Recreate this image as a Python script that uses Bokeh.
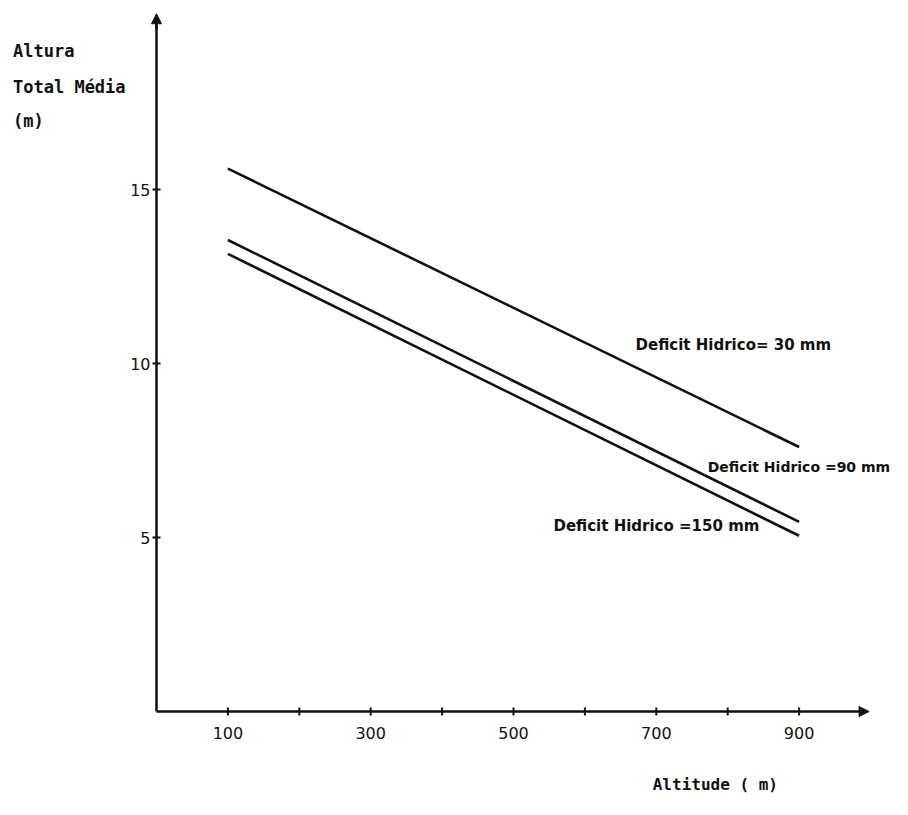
import math
from bokeh.plotting import figure
from bokeh.models import Label, Arrow, NormalHead, Range1d
from bokeh.core.properties import value
from bokeh.embed import file_html
from bokeh.resources import INLINE

# Data
altitude = [100, 900]
series_names = ["Deficit Hidrico= 30 mm", "Deficit Hidrico =90 mm", "Deficit Hidrico =150 mm"]
h_30mm = [15.6, 7.6]
h_90mm = [13.55, 5.45]
h_150mm = [13.15, 5.05]
x_major_ticks = [100, 300, 500, 700, 900]
x_minor_ticks = [200, 400, 600, 800]
y_ticks = [5, 10, 15]
x_tick_labels = ["100", "300", "500", "700", "900"]
y_tick_labels = ["5", "10", "15"]

W, H = 892, 799
PX_X = 0.714   # pixels per altitude unit
PX_Y = 34.8    # pixels per height unit
X0, Y0 = 156, 711  # pixel position of the origin

p = figure(width=W, height=H, output_backend="svg", toolbar_location=None,
           x_axis_type=None, y_axis_type=None,
           x_range=Range1d(-X0 / PX_X, (W - X0) / PX_X),
           y_range=Range1d((Y0 - H) / PX_Y, Y0 / PX_Y),
           min_border=0)
p.outline_line_color = None
p.grid.visible = False
p.background_fill_color = "white"

INK = "#111111"

# axes lines
p.line([0, 990], [0, 0], line_color=INK, line_width=2.5)
p.line([0, 0], [0, 19.8], line_color=INK, line_width=2.5)
p.add_layout(Arrow(end=NormalHead(size=10, fill_color=INK, line_color=INK),
                   x_start=985, y_start=0, x_end=998, y_end=0, line_width=2.5, line_color=INK))
p.add_layout(Arrow(end=NormalHead(size=10, fill_color=INK, line_color=INK),
                   x_start=0, y_start=19.6, x_end=0, y_end=20.05, line_width=2.5, line_color=INK))

# ticks
p.scatter(x_major_ticks + x_minor_ticks, [0] * 9, marker="dash", size=8, angle=math.pi / 2,
          line_color=INK, line_width=2)
p.scatter([0] * len(y_ticks), y_ticks, marker="dash", size=8, line_color=INK, line_width=2)

# tick labels
p.text(x=x_major_ticks, y=[0] * len(x_major_ticks), text=x_tick_labels, y_offset=21,
       text_align="center", text_baseline="middle", text_font=value("DejaVu Sans"),
       text_font_size="16px", text_color=INK)
p.text(x=[0] * len(y_ticks), y=y_ticks, text=y_tick_labels, x_offset=-6,
       text_align="right", text_baseline="middle", text_font=value("DejaVu Sans"),
       text_font_size="16px", text_color=INK)

# series
for ys in (h_30mm, h_90mm, h_150mm):
    p.line(altitude, ys, line_color=INK, line_width=2.6)

label_specs = [(671, 10.52, "15px"), (772, 7.04, "14px"), (556, 5.32, "15px")]
for name, (lx, ly, fs) in zip(series_names, label_specs):
    p.add_layout(Label(x=lx, y=ly, text=name, text_font="DejaVu Sans", text_font_style="bold",
                       text_font_size=fs, text_baseline="middle", text_align="left",
                       text_color=INK))

# axis titles
for txt, yy in (("Altura", 50), ("Total Média", 86), ("(m)", 120)):
    p.add_layout(Label(x=-201, y=(Y0 - yy) / PX_Y, text=txt, text_font="DejaVu Sans Mono",
                       text_font_style="bold", text_font_size="17px", text_baseline="middle",
                       text_color=INK))
p.add_layout(Label(x=695, y=(Y0 - 784) / PX_Y, text="Altitude ( m)", text_font="DejaVu Sans Mono",
                   text_font_style="bold", text_font_size="16px", text_baseline="middle",
                   text_color=INK))

open("out.html", "w").write(file_html(p, INLINE))
